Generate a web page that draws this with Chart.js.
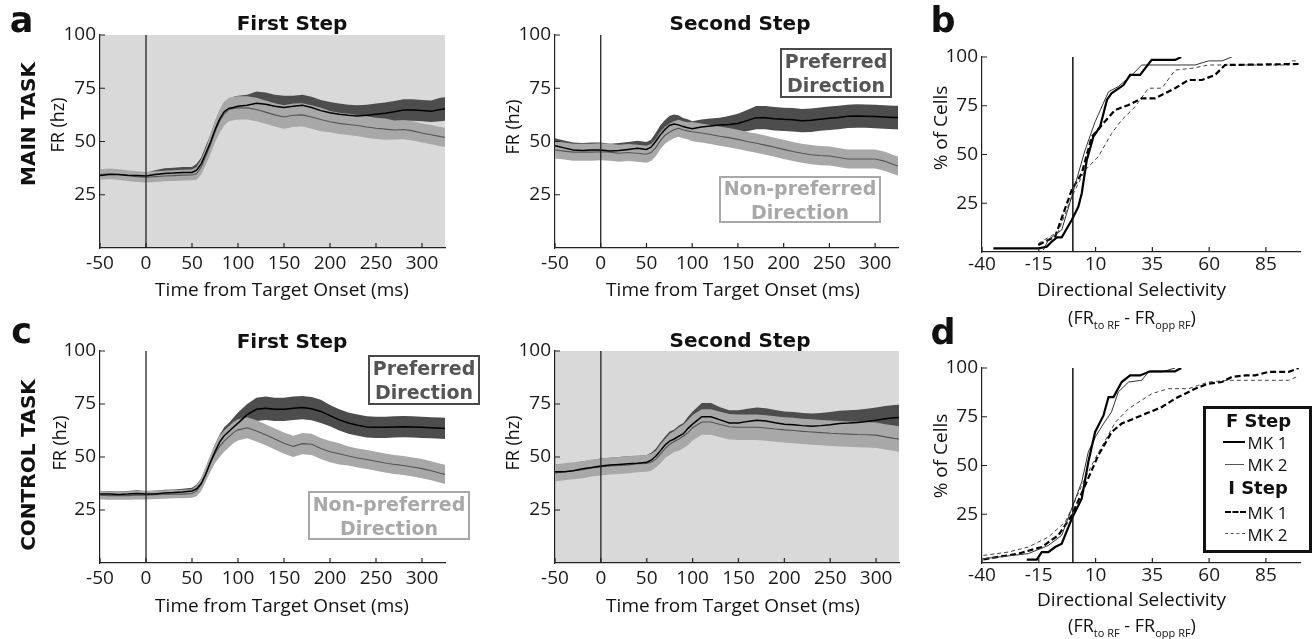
<!DOCTYPE html>
<html>
<head>
<meta charset="utf-8">
<title>Directional selectivity – main and control task</title>
<script src="https://cdn.jsdelivr.net/npm/chart.js@4.4.1/dist/chart.umd.min.js"></script>
<style>
  html, body { margin: 0; padding: 0; background: #fff; }
  body { position: relative; width: 1313px; height: 639px; overflow: hidden; font-family: 'Open Sans', sans-serif; color: #111; }
  canvas { position: absolute; }
  .t { position: absolute; line-height: 1; white-space: nowrap; transform: translate(-50%, -50%); }
  .r { transform: translate(-50%, -50%) rotate(-90deg); }
  .hv { font-family: 'DejaVu Sans', sans-serif; font-weight: bold; }
  .box { position: absolute; box-sizing: border-box; display: flex; flex-direction: column; justify-content: center; align-items: center;
         font-family: 'DejaVu Sans', sans-serif; font-weight: bold; font-size: 19px; line-height: 24px; }
  .pref { border: 2px solid #4a4a4a; color: #555; }
  .npref { border: 2px solid #a8a8a8; color: #a8a8a8; }
  .sw { position: absolute; height: 0; }
  sub { font-size: 11px; vertical-align: -5px; line-height: 0; }
</style>
</head>
<body>
<canvas id="a1" width="420" height="300" style="left:30px;top:0"></canvas>
<canvas id="a2" width="425" height="300" style="left:480px;top:0"></canvas>
<canvas id="c1" width="420" height="300" style="left:30px;top:315px"></canvas>
<canvas id="c2" width="425" height="300" style="left:480px;top:315px"></canvas>
<canvas id="b" width="375" height="260" style="left:935px;top:20px"></canvas>
<canvas id="d" width="375" height="260" style="left:935px;top:330px"></canvas>

<!-- panel letters -->
<div class="t hv" style="left:21.5px;top:19.7px;font-size:35px">a</div>
<div class="t hv" style="left:943px;top:20.4px;font-size:35px">b</div>
<div class="t hv" style="left:21.5px;top:330.7px;font-size:35px">c</div>
<div class="t hv" style="left:943px;top:331.7px;font-size:35px">d</div>

<!-- titles -->
<div class="t hv" style="left:292px;top:23px;font-size:20px">First Step</div>
<div class="t hv" style="left:740px;top:23px;font-size:20px">Second Step</div>
<div class="t hv" style="left:292px;top:341px;font-size:20px">First Step</div>
<div class="t hv" style="left:740px;top:340px;font-size:20px">Second Step</div>
<div class="t hv r" style="left:27.5px;top:123.5px;font-size:20px">MAIN TASK</div>
<div class="t hv r" style="left:27.5px;top:465px;font-size:20px">CONTROL TASK</div>

<!-- axis titles -->
<div class="t r" style="left:57px;top:124.5px;font-size:18px">FR (hz)</div>
<div class="t r" style="left:512px;top:127px;font-size:18px">FR (hz)</div>
<div class="t r" style="left:59px;top:443px;font-size:18px">FR (hz)</div>
<div class="t r" style="left:512px;top:443px;font-size:18px">FR (hz)</div>
<div class="t" style="left:282px;top:288.5px;font-size:19px">Time from Target Onset (ms)</div>
<div class="t" style="left:733px;top:288.5px;font-size:19px">Time from Target Onset (ms)</div>
<div class="t" style="left:282px;top:604.5px;font-size:19px">Time from Target Onset (ms)</div>
<div class="t" style="left:733px;top:604.5px;font-size:19px">Time from Target Onset (ms)</div>
<div class="t r" style="left:940px;top:128px;font-size:19px">% of Cells</div>
<div class="t r" style="left:940px;top:456px;font-size:19px">% of Cells</div>
<div class="t" style="left:1131.5px;top:289px;font-size:19px">Directional Selectivity</div>
<div class="t" style="left:1131.5px;top:598.5px;font-size:19px">Directional Selectivity</div>
<div class="t" style="left:1132px;top:317px;font-size:18px">(FR<sub>to RF</sub> - FR<sub>opp RF</sub>)</div>
<div class="t" style="left:1132px;top:625px;font-size:18px">(FR<sub>to RF</sub> - FR<sub>opp RF</sub>)</div>

<!-- direction labels -->
<div class="box pref" style="left:780px;top:48px;width:112px;height:50px"><span>Preferred</span><span>Direction</span></div>
<div class="box npref" style="left:719px;top:176px;width:162px;height:47px"><span>Non-preferred</span><span>Direction</span></div>
<div class="box pref" style="left:368px;top:355px;width:112px;height:50px"><span>Preferred</span><span>Direction</span></div>
<div class="box npref" style="left:308px;top:491px;width:162px;height:49px"><span>Non-preferred</span><span>Direction</span></div>

<!-- legend of panel d -->
<div style="position:absolute;left:1203px;top:406px;width:109px;height:147px;box-sizing:border-box;border:3px solid #111;"></div>
<div class="t hv" style="left:1258.5px;top:421px;font-size:18px">F Step</div>
<div class="sw" style="left:1223px;top:441px;width:22px;border-top:2.5px solid #000"></div>
<div class="t" style="left:1267.5px;top:442px;font-size:17px">MK 1</div>
<div class="sw" style="left:1225px;top:463.5px;width:19px;border-top:1px solid #555"></div>
<div class="t" style="left:1267.5px;top:464px;font-size:17px">MK 2</div>
<div class="t hv" style="left:1258px;top:488px;font-size:18px">I Step</div>
<div class="sw" style="left:1225px;top:510.5px;width:21px;border-top:2.5px dashed #000"></div>
<div class="t" style="left:1267.5px;top:511.5px;font-size:17px">MK 1</div>
<div class="sw" style="left:1225px;top:533px;width:20px;border-top:1px dashed #555"></div>
<div class="t" style="left:1267.5px;top:533.5px;font-size:17px">MK 2</div>

<script>
// time axis (ms): shared by all four firing-rate panels
const T = [-50, -40, -30, -20, -10, 0, 10, 20, 30, 40, 50,
  55, 60, 65, 70, 75, 80, 85, 90, 95,
  100, 110, 120, 130, 140, 150, 160, 170, 180, 190, 200, 210, 220, 230, 240, 250, 260, 270, 280, 290, 300, 310, 320,
  325];
const timeTicks = [-50, 0, 50, 100, 150, 200, 250, 300];
const rateTicks = [25, 50, 75, 100];
const dsTicks = [-40, -15, 10, 35, 60, 85];
const pctTicks = [25, 50, 75, 100];

// a: main task, first step
const a1Pref = [34, 34.5, 34.5, 34.2, 34, 33.8, 34.5, 35, 35.2, 35.5, 35.5,
  36.5, 39.5, 44.5, 49.5, 55.5, 60.5, 64, 65.5, 66,
  66.5, 67, 68, 67.5, 66.5, 66, 66.5, 67, 66, 64.5, 63.5, 62.8, 62.3, 62, 62.3, 62.8, 63.3, 64, 64.8, 64.8, 64.5, 64.2, 65,
  65.3];
const a1PrefSem = [1.5, 1.5, 1.5, 1.5, 1.5, 1.5, 2, 2.5, 2.5, 2.5, 2.5,
  3, 3, 3.5, 3.5, 4, 4, 4.5, 4.5, 5,
  5, 5, 5.5, 5.5, 5.5, 5.5, 5, 5, 5, 5, 5, 5, 5, 5, 5, 5, 5, 5, 5, 5, 5, 5, 5.5,
  5.5];
const a1Non = [34.5, 34.8, 34.5, 34, 33.5, 33.2, 33.5, 33.8, 34, 34.2, 34.3,
  35, 38, 43, 48.5, 54.5, 59.5, 63, 65, 65.5,
  65.8, 65.8, 65, 63.8, 62.5, 61.5, 62.3, 62.5, 61.5, 60.3, 59.3, 58.5, 58, 57.5, 56.8, 56.2, 55.8, 55.4, 55.6, 55, 54, 53.2, 52.3,
  52];
const a1NonSem = [2.5, 2.5, 2.5, 2.5, 2.5, 2.5, 2.5, 2.5, 2.5, 2.5, 2.5,
  3, 3.5, 4, 4.5, 5, 5.5, 5.5, 5.5, 5.5,
  5.5, 5.5, 5.5, 5.5, 5.5, 5.5, 5.5, 5.5, 5.5, 5.5, 5, 5, 5, 5, 5, 5, 5, 4.5, 4.5, 4.5, 4.5, 4.5, 4.5,
  4.5];

// a: main task, second step
const a2Pref = [48, 47, 46, 45.8, 46, 46, 45.5, 45.8, 46.3, 46.8, 46.3,
  47.3, 50, 53, 55.5, 57.5, 58.2, 57.8, 57, 56.5,
  56, 56.8, 57.3, 57.7, 58, 58.5, 59.8, 61.2, 61.2, 60.7, 60.4, 60.2, 59.8, 60, 60.5, 60.9, 61.3, 61.8, 62, 61.9, 61.7, 61.5, 61.3,
  61.3];
const a2PrefSem = [3.5, 3.5, 3.5, 3.5, 3.5, 3.5, 3.5, 3.5, 3.5, 3.5, 3.5,
  3.5, 4, 4.5, 4.5, 4.5, 4.5, 4.5, 4, 4,
  3.5, 3.5, 3.5, 3.5, 4, 4.5, 5, 5.5, 5.5, 5.5, 5.5, 5.5, 5.5, 5.5, 5.5, 5.5, 5.5, 5.5, 5.5, 5.5, 5.5, 5.5, 5.5,
  5.5];
const a2Non = [46, 45.5, 45, 45, 45, 45.2, 45, 44.5, 44.8, 44.5, 44,
  44.8, 47, 50.3, 52.8, 54.3, 55.5, 56.2, 55.5, 55,
  54.6, 54, 53.3, 52.5, 51.8, 51, 50, 49.2, 48.3, 47.3, 46.3, 45.3, 44.5, 43.8, 43.4, 43.2, 42.5, 41.8, 41.8, 41.8, 41.8, 40.8, 39.2,
  38.5];
const a2NonSem = [4, 4, 4, 4, 4, 4, 4, 4, 4, 4, 4,
  4, 4, 4, 4, 4, 4, 4, 4, 4,
  4.5, 4.5, 4.5, 4.5, 4.5, 4.5, 4.5, 4.5, 4.5, 4.5, 4.5, 4.5, 4.5, 4.5, 4.5, 4.5, 4.5, 4.5, 4.5, 4.5, 4.5, 4.5, 4.5,
  4.5];

// c: control task, first step
const c1Pref = [32.5, 32.5, 32.3, 32.5, 32.8, 32.5, 32.6, 33, 33.2, 33.5, 34,
  35, 37.5, 42, 47.5, 52.5, 57, 60, 62, 64,
  66, 70, 72.5, 73, 72.5, 72.5, 73, 73.3, 72.8, 71.5, 69.5, 67.5, 66, 65, 64.2, 64, 64, 64.2, 64.3, 64.2, 64, 63.8, 63.6,
  63.5];
const c1PrefSem = [1.5, 1.5, 1.5, 1.5, 1.5, 1.5, 1.5, 1.5, 1.5, 1.5, 1.5,
  2, 2.5, 3, 3, 3.5, 3.5, 4, 4, 4.5,
  5, 5, 5.5, 5.5, 5.5, 5.5, 5.5, 5.5, 5.5, 5.5, 5, 5, 5, 5, 5, 5, 5, 5, 5, 5, 5, 5, 5,
  5];
const c1Non = [32, 31.8, 31.8, 31.8, 32, 32, 32.2, 32.3, 32.5, 32.5, 32.8,
  34, 37, 42, 47, 51.5, 55, 57.5, 59.5, 61.5,
  62.8, 63.8, 62.3, 60.5, 58.5, 56.5, 55, 56.3, 56, 54, 52.5, 51.5, 50.5, 49.5, 48.8, 48, 47.2, 46.5, 46, 45.3, 44.5, 43.5, 42.3,
  41.8];
const c1NonSem = [2, 2, 2, 2, 2, 2, 2, 2, 2, 2, 2,
  2.5, 3, 3.5, 4, 4.5, 5, 5, 5, 5,
  5, 5, 5, 5, 5, 5, 5, 5, 5, 5, 5, 5, 4.5, 4.5, 4.5, 4.5, 4.5, 4.5, 4.5, 4.5, 4.5, 4.5, 4.5,
  4.5];

// c: control task, second step
const c2Pref = [43, 43, 43.5, 44.5, 45, 45.8, 46.2, 46.5, 46.8, 47, 47.5,
  48.5, 50.5, 53, 55.7, 57.5, 58.5, 59.8, 61, 63.5,
  65.5, 69, 69, 67.5, 66, 66, 66.8, 67.3, 67, 66.2, 65.5, 65.2, 64.8, 64.5, 64.8, 65.2, 65.8, 66, 66.3, 66.8, 67.3, 68, 68.5,
  68.6];
const c2PrefSem = [3.5, 3.5, 3.5, 3.5, 3.5, 3.5, 3.5, 3.5, 3.5, 3.5, 3.5,
  3.5, 3.5, 4, 4, 4.5, 4.5, 5, 5, 5.5,
  6, 6.5, 6.5, 6, 6, 6, 6, 6, 6, 6, 6, 6, 6, 6, 6, 6, 6, 6, 6, 6, 6, 6, 6,
  6];
const c2Non = [42.5, 43, 43.5, 44, 44.8, 45.3, 45.8, 46, 46.3, 46.8, 47,
  47.5, 49, 51.5, 54, 56, 57.3, 58.5, 59.8, 61.5,
  63.8, 66.5, 66.5, 65.3, 64.3, 64, 64, 64, 63.7, 63.2, 62.8, 62.5, 62.1, 61.8, 61.5, 61.2, 61, 60.8, 60.6, 60.5, 60.3, 59.5, 58.8,
  58.5];
const c2NonSem = [4, 4, 4, 4, 4, 4, 4, 4, 4, 4, 4,
  4, 4, 4.5, 4.5, 5, 5, 5.5, 5.5, 6,
  6, 6, 6, 6, 6, 6, 6, 6, 6, 6, 6, 6, 6, 6, 6, 6, 6, 6, 6, 6, 6, 6, 6,
  6];

// b: cumulative distributions, main task
const bFmk1X = [-35, -15.2, -11.5, -9.3, -7, -4.9, -0.5, 2.4, 3.9, 6.1, 9, 12, 15, 17, 22.3, 25.2, 29.6, 34.7, 45, 47.7];
const bFmk1Y = [1.9, 1.9, 2.7, 5.3, 7.5, 7.5, 16.4, 23.2, 30, 47, 59, 64.3, 78, 81.4, 85.6, 90.8, 90.8, 98.5, 98.5, 100];
const bFmk2X = [-13, -10.8, -4.9, -0.5, 5.4, 9.8, 15.7, 20, 26, 30.3, 53.8, 59.7, 65.6, 70];
const bFmk2Y = [1, 6.2, 11.3, 28.4, 52.3, 66.8, 82.2, 84.8, 90.8, 95.9, 95.9, 98, 98, 100];
const bImk1X = [-15.2, -7.8, -0.5, 3.9, 8.3, 12.7, 18.6, 24.5, 30.3, 36.2, 45, 50.9, 56.8, 62.6, 67, 99.4];
const bImk1Y = [3.6, 7.9, 31.8, 40.3, 59, 65, 72.8, 75.4, 78.8, 78.8, 84, 88.2, 88.2, 90.8, 95.9, 96.4];
const bImk2X = [-15.2, -6.4, -0.5, 5.4, 11.2, 17.1, 21.5, 27.4, 33.3, 39.2, 45, 52.4, 59.7, 95, 96, 99.4];
const bImk2Y = [4.4, 10.4, 28.4, 42, 48.9, 60.9, 67.7, 74.5, 84, 84, 93.3, 94.2, 95.9, 95.9, 98, 98];

// d: cumulative distributions, control task
const dFmk1X = [-20.3, -15.9, -13.7, -10.8, -7.8, -4.9, -0.5, 3.9, 6.8, 9.8, 13.5, 15.7, 17.9, 21.5, 25.2, 29.6, 34, 45, 47.7];
const dFmk1Y = [1.7, 1.7, 5.6, 5.6, 8.2, 9.9, 22.7, 33, 51.8, 67.2, 75.7, 85.1, 85.1, 92.8, 96.2, 96.2, 98.3, 98.3, 100];
const dFmk2X = [-39.4, -19.6, -10.8, -4.9, -0.5, 3.9, 6.8, 10.3, 14, 17, 20, 24.5, 30.3, 33.3, 39.2, 45];
const dFmk2Y = [2.2, 4.8, 9, 14.2, 27.9, 41.5, 57, 65.5, 72.3, 77.4, 87.7, 92.8, 93.7, 98, 98, 100];
const dImk1X = [-39.4, -24, -13.7, -6.4, -0.5, 5.4, 11.2, 17.1, 21.5, 30.3, 39.2, 45, 49.4, 53.8, 59.7, 65.6, 70, 75.9, 80.3, 86.1, 95, 99.4];
const dImk1Y = [1.9, 4.8, 8.2, 14.2, 24.4, 39.8, 55.2, 67.2, 71.5, 75.7, 80, 84.3, 86.8, 89.4, 92, 92.8, 95.4, 96.2, 96.2, 98, 98, 100];
const dImk2X = [-39.4, -28.4, -19.6, -10.8, -3.4, -0.5, 3.9, 9.8, 18.6, 24.5, 34.7, 42.1, 50.9, 59.7, 68.5, 95, 99.4];
const dImk2Y = [3.9, 5.6, 8.2, 13.3, 21, 27.9, 39.8, 53.5, 72, 79.1, 86.8, 89.4, 89.4, 92.8, 93.7, 93.7, 95.9];

const DARK = '#4d4d4d';
const LIGHT = '#a8a8a8';
const SHADE = '#d9d9d9';
const tickFont = { family: "'Open Sans', sans-serif", size: 19 };

// short inward tick marks, MATLAB style
const innerTicks = {
  id: 'innerTicks',
  afterDatasetsDraw(chart) {
    const { ctx, chartArea: a, scales: { x, y } } = chart;
    ctx.save();
    ctx.strokeStyle = '#222';
    ctx.lineWidth = 1.2;
    ctx.beginPath();
    x.ticks.forEach((t) => {
      const px = x.getPixelForValue(t.value);
      ctx.moveTo(px, a.bottom);
      ctx.lineTo(px, a.bottom - 5);
    });
    y.ticks.forEach((t) => {
      const py = y.getPixelForValue(t.value);
      ctx.moveTo(a.left, py);
      ctx.lineTo(a.left + 5, py);
    });
    ctx.stroke();
    ctx.restore();
  }
};

// grey plot background for the highlighted panels
const areaFill = {
  id: 'areaFill',
  beforeDraw(chart, args, opts) {
    if (!opts.color) return;
    const a = chart.chartArea;
    chart.ctx.save();
    chart.ctx.fillStyle = opts.color;
    chart.ctx.fillRect(a.left, a.top, a.right - a.left, a.bottom - a.top);
    chart.ctx.restore();
  }
};

function axes(xMin, xMax, xt, yt, yW, xH, xPad) {
  const base = {
    type: 'linear',
    grid: { display: true, drawOnChartArea: false, drawTicks: false },
    border: { display: true, color: '#222', width: 1.2 }
  };
  return {
    x: {
      ...base, min: xMin, max: xMax,
      ticks: { font: tickFont, color: '#1a1a1a', padding: xPad, autoSkip: false, maxRotation: 0, callback: (v) => String(v) },
      afterBuildTicks: (s) => { s.ticks = xt.map((v) => ({ value: v })); },
      afterFit: (s) => { s.height = xH; }
    },
    y: {
      ...base, min: 0, max: 100,
      ticks: { font: tickFont, color: '#1a1a1a', padding: 4, autoSkip: false, callback: (v) => String(v) },
      afterBuildTicks: (s) => { s.ticks = yt.map((v) => ({ value: v })); },
      afterFit: (s) => { s.width = yW; }
    }
  };
}

function baseOptions(pad, shade, scales) {
  return {
    responsive: false,
    animation: false,
    events: [],
    layout: { padding: pad },
    elements: { point: { radius: 0 }, line: { tension: 0 } },
    plugins: { legend: { display: false }, tooltip: { enabled: false }, areaFill: { color: shade } },
    scales
  };
}

function timeChart(id, pref, prefSem, non, nonSem, shade, pad, yW) {
  const pts = (vals) => T.map((t, i) => ({ x: t, y: vals[i] }));
  const up = (m, s) => m.map((v, i) => v + s[i]);
  const lo = (m, s) => m.map((v, i) => v - s[i]);
  const clear = 'rgba(0,0,0,0)';
  new Chart(document.getElementById(id), {
    type: 'line',
    data: {
      datasets: [
        { data: [{ x: 0, y: 0 }, { x: 0, y: 100 }], borderColor: '#222', borderWidth: 1.3 },
        { data: pts(pref), borderColor: '#000', borderWidth: 1.5 },
        { data: pts(non), borderColor: '#555', borderWidth: 1.1 },
        { data: pts(up(non, nonSem)), borderColor: clear, borderWidth: 0, backgroundColor: LIGHT, fill: '+1' },
        { data: pts(lo(non, nonSem)), borderColor: clear, borderWidth: 0, fill: false },
        { data: pts(up(pref, prefSem)), borderColor: clear, borderWidth: 0, backgroundColor: DARK, fill: '+1' },
        { data: pts(lo(pref, prefSem)), borderColor: clear, borderWidth: 0, fill: false }
      ]
    },
    options: baseOptions(pad, shade, axes(-50, 325, timeTicks, rateTicks, yW, 52, 4)),
    plugins: [areaFill, innerTicks]
  });
}

function cdfChart(id, curves, pad, xH) {
  const pts = (xs, ys) => xs.map((x, i) => ({ x, y: ys[i] }));
  const sets = [{ data: [{ x: 0, y: 0 }, { x: 0, y: 100 }], borderColor: '#111', borderWidth: 1.5 }];
  curves.forEach(([xs, ys, color, w, dash]) => {
    sets.push({ data: pts(xs, ys), borderColor: color, borderWidth: w, borderDash: dash, fill: false });
  });
  new Chart(document.getElementById(id), {
    type: 'line',
    data: { datasets: sets },
    options: baseOptions(pad, null, axes(-40, 100, dsTicks, pctTicks, 47, xH, 1)),
    plugins: [innerTicks]
  });
}

timeChart('a1', a1Pref, a1PrefSem, a1Non, a1NonSem, SHADE, { top: 35, right: 5, left: 0, bottom: 0 }, 70);
timeChart('a2', a2Pref, a2PrefSem, a2Non, a2NonSem, null, { top: 35, right: 7, left: 0, bottom: 0 }, 75);
timeChart('c1', c1Pref, c1PrefSem, c1Non, c1NonSem, null, { top: 36, right: 5, left: 0, bottom: 0 }, 70);
timeChart('c2', c2Pref, c2PrefSem, c2Non, c2NonSem, SHADE, { top: 36, right: 6, left: 0, bottom: 0 }, 75);

cdfChart('b', [
  [bFmk1X, bFmk1Y, '#000', 2.2, []],
  [bFmk2X, bFmk2Y, '#333', 1, []],
  [bImk1X, bImk1Y, '#000', 2.2, [6, 3]],
  [bImk2X, bImk2Y, '#444', 1, [4, 3]]
], { top: 37, right: 10, left: 0, bottom: 0 }, 28);

cdfChart('d', [
  [dFmk1X, dFmk1Y, '#000', 2.2, []],
  [dFmk2X, dFmk2Y, '#333', 1, []],
  [dImk1X, dImk1Y, '#000', 2.2, [6, 3]],
  [dImk2X, dImk2Y, '#444', 1, [4, 3]]
], { top: 38, right: 10, left: 0, bottom: 0 }, 27);
</script>
</body>
</html>
